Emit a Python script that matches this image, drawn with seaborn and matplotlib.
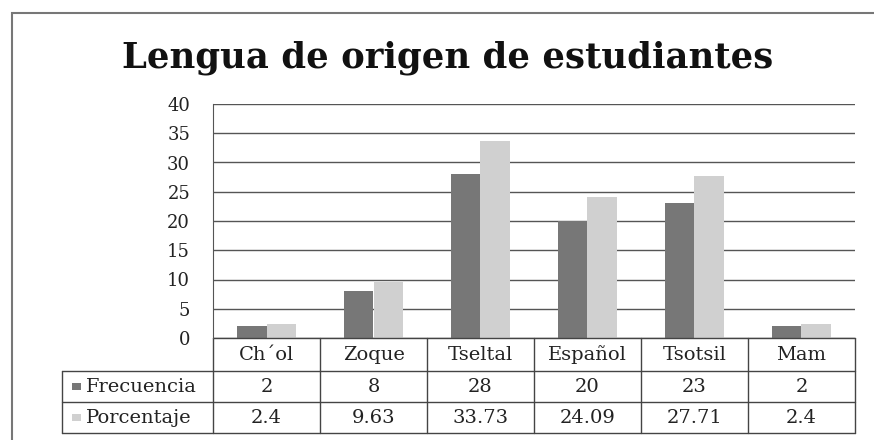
import pandas as pd
import matplotlib.pyplot as plt
import seaborn as sns
from matplotlib.patches import Rectangle

# Data
lenguas = ["Ch\u00b4ol", "Zoque", "Tseltal", "Espa\u00f1ol", "Tsotsil", "Mam"]
frecuencia = [2, 8, 28, 20, 23, 2]
porcentaje = [2.4, 9.63, 33.73, 24.09, 27.71, 2.4]
series = ["Frecuencia", "Porcentaje"]
yticks = [0, 5, 10, 15, 20, 25, 30, 35, 40]

colors = {"Frecuencia": "#777777", "Porcentaje": "#d0d0d0"}
serif = "DejaVu Serif"

df = pd.DataFrame({
    "Lengua": lenguas * 2,
    "Serie": ["Frecuencia"] * len(lenguas) + ["Porcentaje"] * len(lenguas),
    "Valor": frecuencia + porcentaje,
})

sns.set_style("white")
plt.rcParams['font.family'] = serif

fig = plt.figure(figsize=(8.74, 4.4), dpi=100)
ax = fig.add_axes([213 / 874, 1 - 338 / 440, 642 / 874, 234 / 440])

sns.barplot(data=df, x="Lengua", y="Valor", hue="Serie", order=lenguas,
            hue_order=series, palette=colors, width=0.56, gap=0,
            saturation=1, linewidth=0, ax=ax, legend=False)

ax.set_ylim(0, 40)
ax.set_xlim(-0.5, len(lenguas) - 0.5)
ax.set_yticks(yticks)
ax.set_yticklabels([str(t) for t in yticks], fontsize=13, color="#222222")
ax.tick_params(axis="y", length=0, pad=16.5)
ax.set_xticks([])
ax.set_xlabel("")
ax.set_ylabel("")
ax.grid(axis="y", color="#555555", linewidth=1)
ax.set_axisbelow(True)
for s in ["right", "top", "bottom"]:
    ax.spines[s].set_visible(False)
ax.spines["left"].set_color("#555555")

# Data table under the plot
h0 = 33 / 234
rh = 31 / 234
left = -151 / 642
lc = "#444444"
fs = 14
kw = dict(transform=ax.transAxes, clip_on=False, color=lc, linewidth=1)
ys = [0, -h0, -h0 - rh, -h0 - 2 * rh]
ax.plot([0, 1], [ys[0], ys[0]], **kw)
for y in ys[1:]:
    ax.plot([left, 1], [y, y], **kw)
n = len(lenguas)
for i in range(n + 1):
    ax.plot([i / n, i / n], [0, ys[3]], **kw)
ax.plot([left, left], [ys[1], ys[3]], **kw)

for i, lab in enumerate(lenguas):
    xc = (i + 0.5) / n
    ax.text(xc, (ys[0] + ys[1]) / 2, lab, transform=ax.transAxes,
            ha="center", va="center", fontsize=fs, color="#222222")
    ax.text(xc, (ys[1] + ys[2]) / 2, f"{frecuencia[i]:g}", transform=ax.transAxes,
            ha="center", va="center", fontsize=fs, color="#222222")
    ax.text(xc, (ys[2] + ys[3]) / 2, f"{porcentaje[i]:g}", transform=ax.transAxes,
            ha="center", va="center", fontsize=fs, color="#222222")

for j, name in enumerate(series):
    yc = (ys[1 + j] + ys[2 + j]) / 2
    ax.add_patch(Rectangle((left + 10 / 642, yc - 3 / 234), 9 / 642, 7 / 234,
                           transform=ax.transAxes, clip_on=False,
                           facecolor=colors[name], edgecolor="none"))
    ax.text(left + 24 / 642, yc, name, transform=ax.transAxes, ha="left",
            va="center", fontsize=fs, color="#222222")

# Title and outer frame
fig.text(0.512, 0.868, "Lengua de origen de estudiantes", ha="center", va="center",
         fontsize=25.5, fontweight="bold", color="#111111")
fig.patches.append(Rectangle((12 / 874, -0.05), 1.0, 1 - 13 / 440 + 0.05,
                             transform=fig.transFigure, fill=False,
                             edgecolor="#777777", linewidth=1.5))

plt.savefig("out.png", dpi=100)
